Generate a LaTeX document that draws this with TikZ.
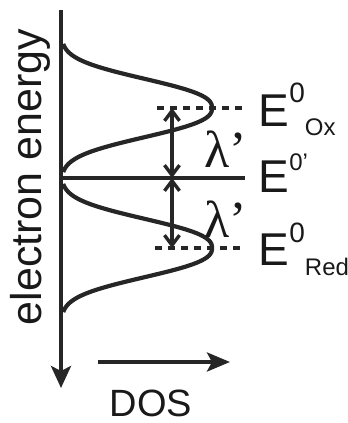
\documentclass[tikz,border=0pt]{standalone}
\usepackage{fontspec}
\setmainfont{Liberation Sans}
\newfontfamily\greekfont{Liberation Serif}
\usetikzlibrary{arrows.meta}

\newcommand{\supsize}{\fontsize{28}{28}\selectfont}
\newcommand{\subsize}{\fontsize{24}{24}\selectfont}

\begin{document}
\begin{tikzpicture}[
        x=1pt, y=-1pt,
        axis/.style={line width=3.8pt, draw=black!85},
        band/.style={line width=4.2pt, draw=black!85},
        level/.style={line width=3.5pt, draw=black!85},
        guide/.style={level, dash pattern=on 7pt off 6pt},
        gap/.style={line width=3.4pt, draw=black!85, {Straight Barb[length=10pt,width=15pt]}-{Straight Barb[length=10pt,width=15pt]}},
        elabel/.style={inner sep=0pt, anchor=base west, text=black!90, font=\fontsize{46}{46}\selectfont},
        lamlabel/.style={inner sep=0pt, anchor=base west, text=black!90, font=\greekfont\fontsize{52}{52}\selectfont}
    ]
        \useasboundingbox (0,0) rectangle (348,423);

        % Axes
        \coordinate (etop) at (61,10);
        \coordinate (ebot) at (61,388);
        \coordinate (dosstart) at (98,362);
        \coordinate (dosend) at (230,362);
        \draw[axis, -{Stealth[length=22pt,width=20pt,inset=5pt]}] (etop) -- (ebot);
        \draw[axis, -{Stealth[length=23pt,width=19pt,inset=5pt]}] (dosstart) -- (dosend);
        \node[rotate=90, anchor=base, inner sep=0pt, text=black!90, font=\fontsize{43}{43}\selectfont] (energy) at (41,177) {electron energy};
        \node[anchor=base, inner sep=0pt, text=black!90, font=\fontsize{38}{38}\selectfont] (dos) at (151,416) {DOS};

        % Densities of states
        \draw[band] plot[domain=-64:64, samples=80, smooth] ({61+151*exp(-pow(abs(\x)/36+0.0001,2.5))}, {108+\x});
        \draw[band] plot[domain=-64:64, samples=80, smooth] ({61+151*exp(-pow(abs(\x)/36+0.0001,2.5))}, {248+\x});

        % Levels
        \coordinate (oxleft) at (157,108);
        \coordinate (oxright) at (245,108);
        \coordinate (midleft) at (61,178);
        \coordinate (midright) at (245,178);
        \coordinate (redleft) at (155,248);
        \coordinate (redright) at (245,248);
        \draw[guide] (oxleft) -- (oxright);
        \draw[level] (midleft) -- (midright);
        \draw[guide] (redleft) -- (redright);

        % Reorganisation energies
        \coordinate (oxgap) at (172,108);
        \coordinate (midgap) at (172,178);
        \coordinate (redgap) at (172,248);
        \draw[gap] (oxgap) -- (midgap);
        \draw[gap] (midgap) -- (redgap);
        \node[lamlabel] (lamup) at (204,167) {λ’};
        \node[lamlabel] (lamdown) at (204,237) {λ’};

        % Potentials
        \node[elabel] (eox) at (258.5,126) {E\raisebox{24pt}{\supsize 0}\raisebox{-9pt}{\subsize Ox}};
        \node[elabel] (ezero) at (258.5,192) {E\raisebox{22pt}{\subsize 0’}};
        \node[elabel] (ered) at (258.5,265) {E\raisebox{23pt}{\supsize 0}\raisebox{-10pt}{\subsize Red}};
    \end{tikzpicture}
\end{document}
